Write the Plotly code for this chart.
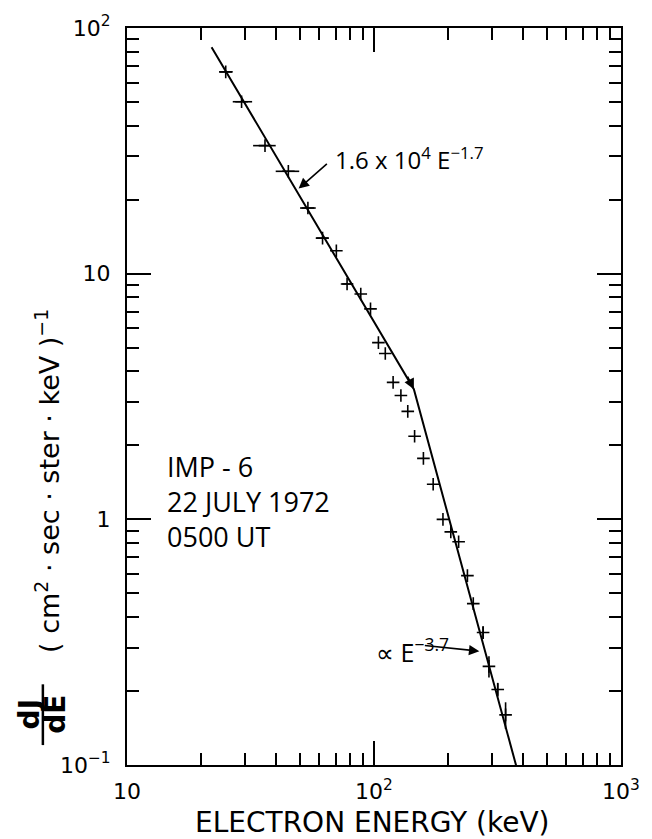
import numpy as np
import plotly.graph_objects as go

# Electron spectrum, IMP-6, 22 July 1972, 0500 UT
energy_kev = [25.1, 29.1, 36.2, 45.0, 54.0, 61.9, 70.4, 77.8, 88.4, 96.8,
              104.2, 111.1, 119.5, 128.5, 137.0, 146.0, 158.5, 173.6, 190.2,
              204.6, 220.1, 238.9, 252.3, 276.5, 292.0, 316.9, 341.0]
flux = [66.3, 50.1, 33.2, 26.1, 18.5, 13.95, 12.4, 9.08, 8.27, 7.19,
        5.24, 4.73, 3.61, 3.19, 2.75, 2.18, 1.77, 1.39, 1.00,
        0.889, 0.810, 0.590, 0.454, 0.346, 0.252, 0.203, 0.160]

# energy channel bounds (keV) for the wide low-energy channels
chan_lo = [23.6, 26.8, 32.4, 40.0, 50.2, 58.1, None, 74.3]
chan_hi = [26.8, 32.1, 40.0, 49.8, 58.1, 65.4, None, 82.2]

# flux uncertainties for the highest-energy points
flux_err = [0] * 23 + [0.02, 0.025, 0.013, 0.02]

# broken power-law fit
amp_low, index_low = 1.6e4, 1.7
index_high = 3.7
e_start, e_break, e_end = 22.0, 145.0, 376.0

x_ticks = [10, 100, 1000]
x_tick_text = ["10", "10<sup>2</sup>", "10<sup>3</sup>"]
y_ticks = [0.1, 1, 10, 100]
y_tick_text = ["10<sup>−1</sup>", "1", "10", "10<sup>2</sup>"]

err_plus, err_minus = [], []
for i, e in enumerate(energy_kev):
    if i < len(chan_lo) and chan_lo[i] is not None:
        err_plus.append(chan_hi[i] - e)
        err_minus.append(e - chan_lo[i])
    else:
        err_plus.append(0)
        err_minus.append(0)

j_break = amp_low * e_break ** (-index_low)
fit_e = [e_start, e_break, e_end]
fit_j = [amp_low * e_start ** (-index_low), j_break,
         j_break * (e_end / e_break) ** (-index_high)]

FONT = "DejaVu Sans"
FONT2 = "Open Sans"
fig = go.Figure()

fig.add_trace(go.Scatter(
    x=fit_e, y=fit_j, mode="lines",
    line=dict(color="black", width=2), showlegend=False, hoverinfo="skip"))

fig.add_trace(go.Scatter(
    x=energy_kev, y=flux, mode="markers",
    marker=dict(symbol="cross-thin", size=9, line=dict(color="black", width=1.6)),
    error_x=dict(type="data", array=err_plus, arrayminus=err_minus,
                 color="black", thickness=1.6, width=0),
    error_y=dict(type="data", array=flux_err, color="black", thickness=1.6, width=0),
    showlegend=False))

axis_common = dict(
    type="log", showgrid=False, zeroline=False,
    showline=True, linecolor="black", linewidth=2, mirror="ticks",
    ticks="inside", ticklen=24, tickwidth=1.5, tickcolor="black",
    tickfont=dict(family=FONT, size=22, color="black"),
    minor=dict(ticks="inside", ticklen=12, tickwidth=1.5, tickcolor="black",
               dtick="D1", showgrid=False),
)

fig.update_xaxes(range=[1, 3], tickvals=x_ticks, ticktext=x_tick_text,
                 ticklabelstandoff=6, **axis_common)
fig.update_yaxes(range=[-1, 2], tickvals=y_ticks, ticktext=y_tick_text,
                 ticklabelstandoff=10, **axis_common)

L, R, T, B = 127, 20, 25, 74
W, H = 652, 839
pw, ph = W - L - R, H - T - B


def px(x):
    return (x - L) / pw


def py(y):
    return (H - B - y) / ph


annotations = [
    # fit labels
    dict(x=np.log10(48.5), y=np.log10(amp_low * 48.5 ** (-index_low)),
         xref="x", yref="y", text="", showarrow=True, arrowhead=2,
         arrowsize=1.3, arrowwidth=1.6, arrowcolor="black", ax=32, ay=-28,
         standoff=3),
    dict(x=px(338), y=py(156), xref="paper", yref="paper", xanchor="left",
         yanchor="middle",
         text="1.6 x 10<sup>4</sup> E<sup>−1.7</sup>", showarrow=False,
         font=dict(family=FONT2, size=24, color="black")),
    dict(x=np.log10(e_break), y=np.log10(j_break), xref="x", yref="y", text="",
         showarrow=True, arrowhead=2, arrowsize=1.3, arrowwidth=1.6,
         arrowcolor="black", ax=-7, ay=-14),
    dict(x=np.log10(272.0), y=np.log10(0.29), xref="x", yref="y", text="",
         showarrow=True, arrowhead=2, arrowsize=1.3, arrowwidth=1.6,
         arrowcolor="black", ax=-58, ay=-6, standoff=2),
    dict(x=px(379), y=py(650), xref="paper", yref="paper", xanchor="left",
         yanchor="middle", text="∝ E<sup>−3.7</sup>", showarrow=False,
         font=dict(family=FONT2, size=25, color="black")),
    # event label
    dict(x=px(166), y=py(500), xref="paper", yref="paper", xanchor="left",
         yanchor="middle", align="left",
         text="IMP - 6<br>22 JULY 1972<br>0500 UT", showarrow=False,
         font=dict(family=FONT2, size=27, color="black")),
    # y-axis title
    dict(x=px(27), y=py(714), xref="paper", yref="paper", text="<b>dJ</b>",
         textangle=-90, showarrow=False, xanchor="center", yanchor="middle",
         font=dict(family=FONT, size=28, color="black")),
    dict(x=px(54), y=py(714), xref="paper", yref="paper", text="<b>dE</b>",
         textangle=-90, showarrow=False, xanchor="center", yanchor="middle",
         font=dict(family=FONT, size=28, color="black")),
    dict(x=px(45), y=py(480), xref="paper", yref="paper",
         text="( cm<sup>2</sup> · sec · ster · keV )<sup>−1</sup>",
         textangle=-90, showarrow=False, xanchor="center", yanchor="middle",
         font=dict(family=FONT, size=27, color="black")),
    # x-axis title
    dict(x=px(378), y=py(823), xref="paper", yref="paper",
         text="ELECTRON ENERGY (keV)", showarrow=False,
         xanchor="center", yanchor="middle",
         font=dict(family=FONT, size=28, color="black")),
]

shapes = [
    dict(type="line", xref="paper", yref="paper",
         x0=px(41), x1=px(41), y0=py(684), y1=py(745),
         line=dict(color="black", width=2.5)),
]

fig.update_layout(
    width=W, height=H,
    margin=dict(l=L, r=R, t=T, b=B),
    paper_bgcolor="white", plot_bgcolor="white",
    font=dict(family=FONT, color="black"),
    annotations=annotations, shapes=shapes,
)

fig.write_html("out.html")
